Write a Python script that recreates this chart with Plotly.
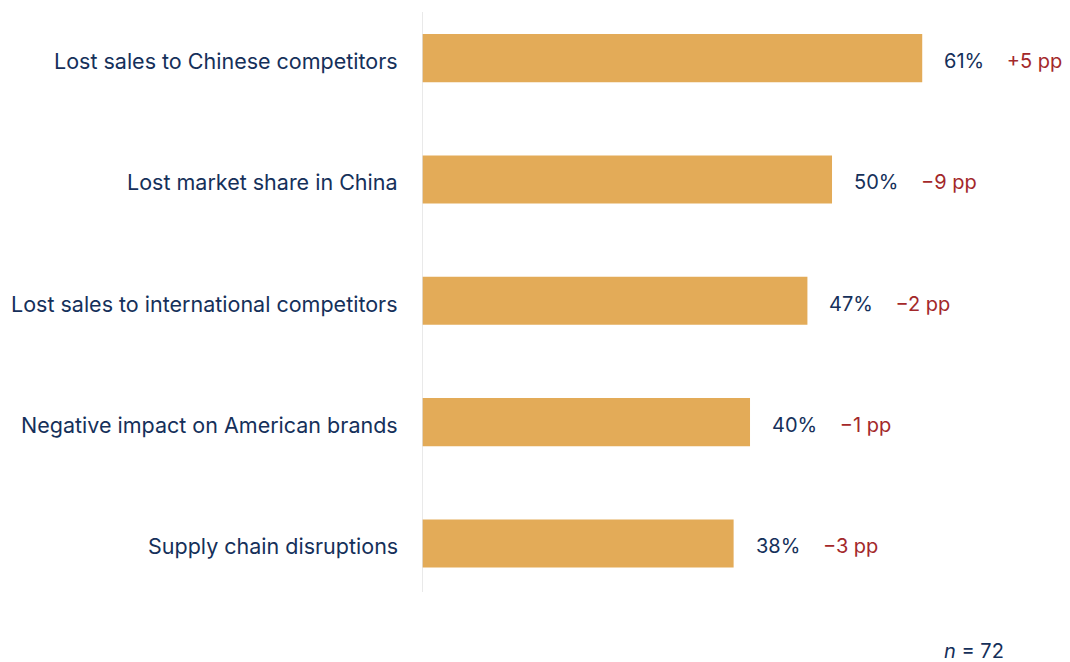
import plotly.graph_objects as go

categories = [
    "Lost sales to Chinese competitors",
    "Lost market share in China",
    "Lost sales to international competitors",
    "Negative impact on American brands",
    "Supply chain disruptions",
]
values = [61, 50, 47, 40, 38]
changes = ["+5 pp", "\u22129 pp", "\u22122 pp", "\u22121 pp", "\u22123 pp"]
sample_note = "<i>n</i> = 72"

NAVY = "#15305a"
GOLD = "#e3ab58"
RED = "#a3282a"
FONT = "Inter"

fig = go.Figure(
    go.Bar(
        x=values,
        y=categories,
        orientation="h",
        marker=dict(color=GOLD, line=dict(width=0)),
        width=0.396,
        hoverinfo="skip",
    )
)

# category labels to the left of the baseline
for cat in categories:
    fig.add_annotation(
        x=0, y=cat, xref="paper", yref="y", text=cat,
        showarrow=False, xanchor="right", yanchor="middle",
        xshift=-22, yshift=-3,
        font=dict(family=FONT, size=21.5, color=NAVY),
    )

# value + change label to the right of each bar
for cat, v, ch in zip(categories, values, changes):
    fig.add_annotation(
        x=v, y=cat, xref="x", yref="y",
        text=f"{v}%\u00a0\u00a0\u00a0\u00a0<span style='color:{RED}'>{ch}</span>",
        showarrow=False, xanchor="left", yanchor="middle", xshift=20, yshift=-3,
        font=dict(family=FONT, size=20, color=NAVY),
    )

fig.add_annotation(
    x=0.901, y=-0.102, xref="paper", yref="paper",
    text=sample_note, showarrow=False, xanchor="right", yanchor="middle",
    font=dict(family=FONT, size=20, color=NAVY),
)

# baseline
fig.add_shape(
    type="line", x0=0, x1=0, y0=0, y1=1, xref="x", yref="paper",
    line=dict(color="#e2e2e2", width=1.5), layer="above",
)

fig.update_layout(
    width=1070, height=662,
    margin=dict(l=422, r=0, t=12, b=70),
    paper_bgcolor="white", plot_bgcolor="white",
    showlegend=False,
    font=dict(family=FONT, size=20, color=NAVY),
    xaxis=dict(range=[0, 79.02], visible=False, fixedrange=True),
    yaxis=dict(
        range=[4.40, -0.38], showgrid=False, zeroline=False, showline=False,
        showticklabels=False, ticks="", fixedrange=True,
    ),
)

fig.write_html("out.html")
